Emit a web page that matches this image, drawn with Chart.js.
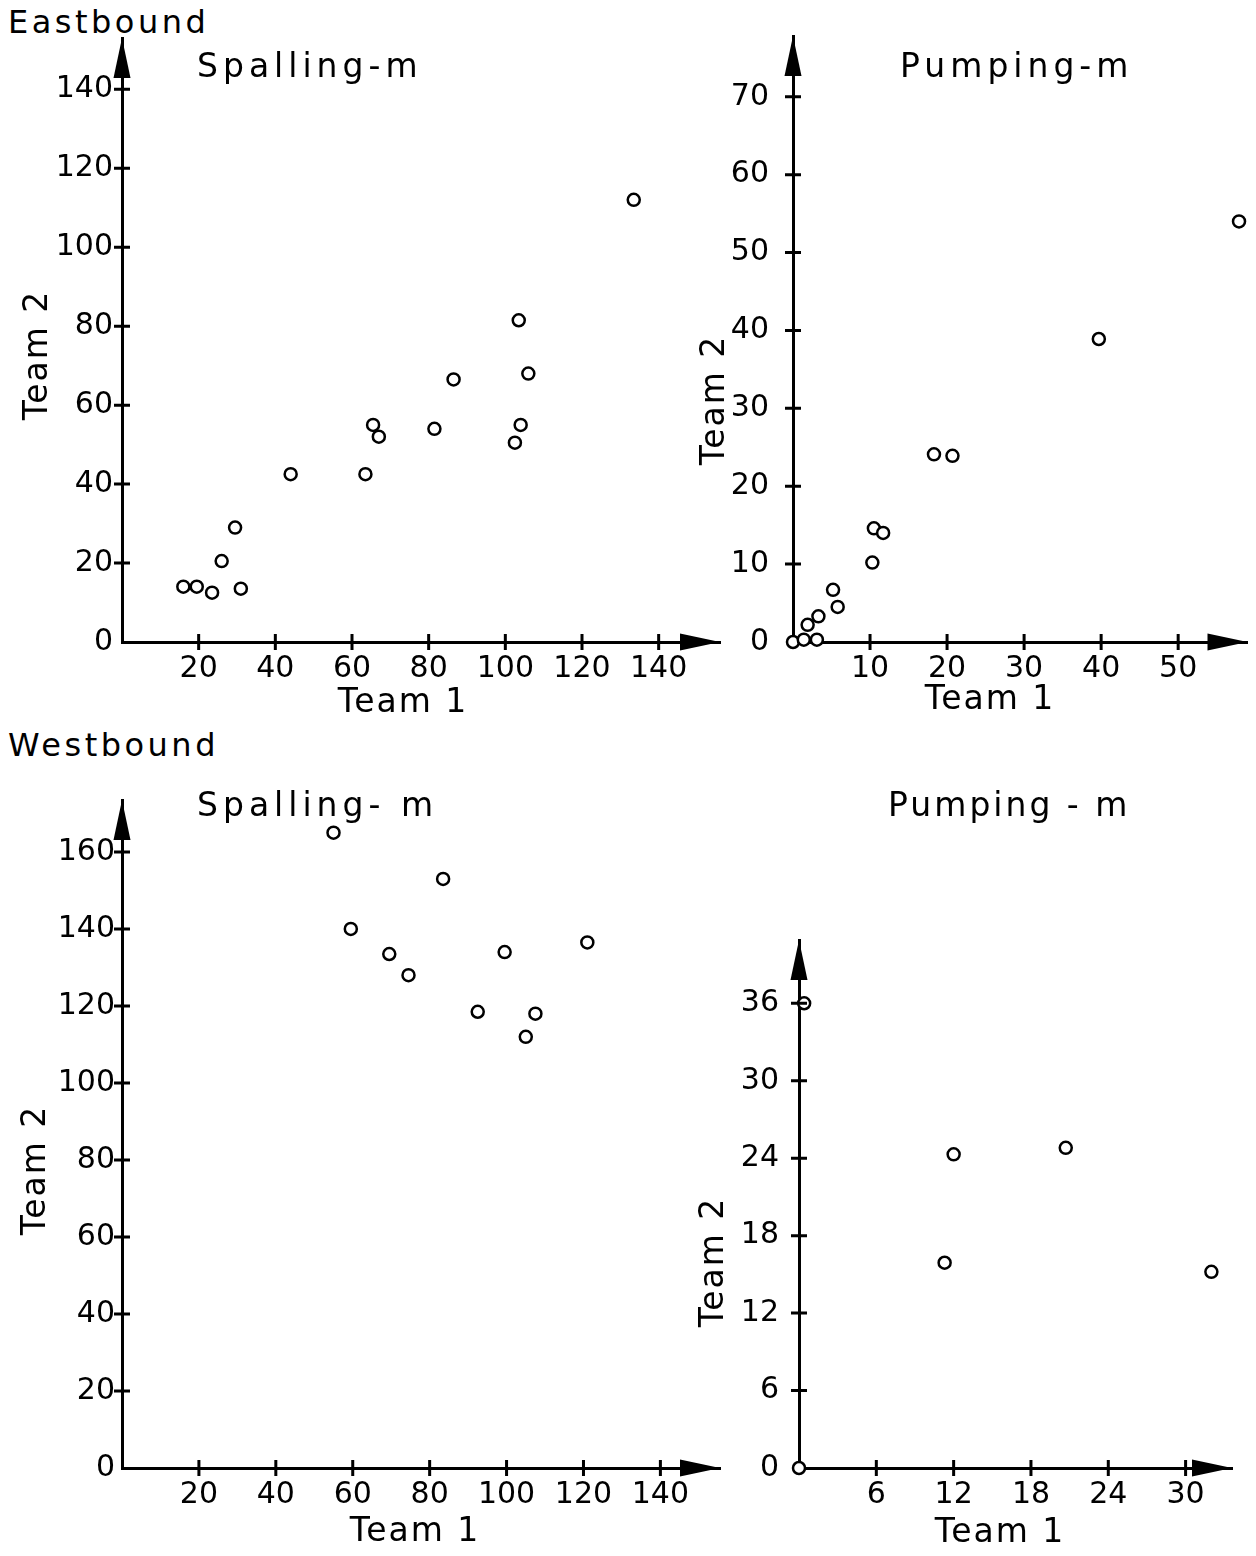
<!DOCTYPE html>
<html>
<head>
<meta charset="utf-8">
<script src="https://cdn.jsdelivr.net/npm/chart.js@4.4.1/dist/chart.umd.min.js"></script>
<style>
  body { margin: 0; background: #fff; width: 1256px; height: 1556px; position: relative; overflow: hidden; font-family: 'DejaVu Sans', sans-serif; }
  canvas { position: absolute; }
  .group { position: absolute; font-size: 32px; letter-spacing: 3.5px; color: #000; line-height: 36px; }
</style>
</head>
<body>
<div class="group" style="left:8px;top:4px">Eastbound</div>
<div class="group" style="left:8px;top:727px">Westbound</div>
<canvas id="eastSpall" width="740" height="740" style="left:0;top:0"></canvas>
<canvas id="eastPump" width="576" height="740" style="left:680px;top:0"></canvas>
<canvas id="westSpall" width="740" height="796" style="left:0;top:760px"></canvas>
<canvas id="westPump" width="576" height="796" style="left:680px;top:760px"></canvas>
<script>
'use strict';

// Eastbound, spalling (m)
let eastSpallTeam1 = [16, 19.5, 23.5, 26, 29.5, 31, 44, 63.5, 65.5, 67, 81.5, 86.5, 102.5, 104, 103.5, 106, 133.5];
let eastSpallTeam2 = [14, 14, 12.5, 20.5, 29, 13.5, 42.5, 42.5, 55, 52, 54, 66.5, 50.5, 55, 81.5, 68, 112];
let eastSpallXTicks = [20, 40, 60, 80, 100, 120, 140];
let eastSpallYTicks = [0, 20, 40, 60, 80, 100, 120, 140];

// Eastbound, pumping (m)
let eastPumpTeam1 = [0, 1.4, 3.1, 1.9, 3.3, 5.2, 5.8, 10.3, 10.5, 11.7, 18.3, 20.7, 39.7, 57.9];
let eastPumpTeam2 = [0, 0.3, 0.3, 2.2, 3.3, 6.7, 4.5, 10.2, 14.6, 14, 24.1, 23.9, 38.9, 54];
let eastPumpXTicks = [10, 20, 30, 40, 50];
let eastPumpYTicks = [0, 10, 20, 30, 40, 50, 60, 70];

// Westbound, spalling (m)
let westSpallTeam1 = [55, 83.5, 59.5, 69.5, 74.5, 99.5, 121, 92.5, 107.5, 105];
let westSpallTeam2 = [165, 153, 140, 133.5, 128, 134, 136.5, 118.5, 118, 112];
let westSpallXTicks = [20, 40, 60, 80, 100, 120, 140];
let westSpallYTicks = [0, 20, 40, 60, 80, 100, 120, 140, 160];

// Westbound, pumping (m)
let westPumpTeam1 = [0, 0.4, 12, 20.7, 11.3, 32];
let westPumpTeam2 = [0, 36, 24.3, 24.8, 15.9, 15.2];
let westPumpXTicks = [6, 12, 18, 24, 30];
let westPumpYTicks = [0, 6, 12, 18, 24, 30, 36];

Chart.defaults.font.family = "'DejaVu Sans', sans-serif";
Chart.defaults.font.size = 30;
Chart.defaults.color = '#000';

function drawText(ctx, t, rotate) {
  ctx.save();
  ctx.translate(t.x, t.y);
  if (rotate) ctx.rotate(-Math.PI / 2);
  ctx.font = (t.size || 33) + "px 'DejaVu Sans'";
  ctx.letterSpacing = (t.spacing || 2) + 'px';
  ctx.textAlign = t.align || 'center';
  ctx.textBaseline = 'middle';
  ctx.fillStyle = '#000';
  ctx.fillText(t.text, 0, 0);
  ctx.restore();
}

// ticks crossing the axes, arrow heads, titles
const axisDecor = {
  id: 'axisDecor',
  afterDraw(chart, args, opts) {
    const ctx = chart.ctx;
    const a = chart.chartArea;
    const x = chart.scales.x;
    const y = chart.scales.y;
    ctx.save();
    ctx.strokeStyle = '#000';
    ctx.fillStyle = '#000';
    ctx.lineWidth = 3;
    ctx.beginPath();
    x.ticks.forEach(t => {
      if (t.value === x.min) return;
      let px = x.getPixelForValue(t.value);
      ctx.moveTo(px, a.bottom - 8);
      ctx.lineTo(px, a.bottom + 8);
    });
    y.ticks.forEach(t => {
      if (t.value === y.min) return;
      let py = y.getPixelForValue(t.value);
      ctx.moveTo(a.left - 8, py);
      ctx.lineTo(a.left + 8, py);
    });
    ctx.stroke();

    ctx.beginPath();
    ctx.moveTo(a.left, a.top);
    ctx.lineTo(a.left - 8.5, a.top + 40);
    ctx.lineTo(a.left + 8.5, a.top + 40);
    ctx.closePath();
    ctx.fill();
    ctx.beginPath();
    ctx.moveTo(a.right, a.bottom);
    ctx.lineTo(a.right - 40, a.bottom - 8.5);
    ctx.lineTo(a.right - 40, a.bottom + 8.5);
    ctx.closePath();
    ctx.fill();
    ctx.restore();

    drawText(ctx, opts.title, false);
    drawText(ctx, opts.xTitle, false);
    drawText(ctx, opts.yTitle, true);
  }
};

function makeChart(id, xs, ys, xTicks, yTicks, xMax, yMax, box, deco) {
  let points = xs.map((v, i) => ({x: v, y: ys[i]}));
  return new Chart(document.getElementById(id), {
    type: 'scatter',
    data: {
      datasets: [{
        data: points,
        pointStyle: 'circle',
        pointRadius: 6,
        pointBorderWidth: 2.5,
        pointBackgroundColor: '#fff',
        pointBorderColor: '#000',
        clip: false
      }]
    },
    options: {
      responsive: false,
      animation: false,
      layout: {padding: {top: box.top, right: box.right, left: 0, bottom: 0}},
      plugins: {
        legend: {display: false},
        tooltip: {enabled: false},
        axisDecor: deco
      },
      scales: {
        x: {
          type: 'linear',
          min: 0,
          max: xMax,
          grid: {display: false, drawTicks: false},
          border: {display: true, color: '#000', width: 3},
          ticks: {padding: 9, maxRotation: 0, autoSkip: false},
          afterBuildTicks: s => { s.ticks = xTicks.map(v => ({value: v})); },
          afterFit: s => { s.height = box.xh; s.paddingLeft = 0; s.paddingRight = 0; }
        },
        y: {
          type: 'linear',
          min: 0,
          max: yMax,
          grid: {display: false, drawTicks: false},
          border: {display: true, color: '#000', width: 3},
          ticks: {padding: box.yPad, autoSkip: false},
          afterBuildTicks: s => { s.ticks = yTicks.map(v => ({value: v})); },
          afterFit: s => { s.width = box.yw; s.paddingTop = 0; s.paddingBottom = 0; }
        }
      }
    },
    plugins: [axisDecor]
  });
}

makeChart('eastSpall', eastSpallTeam1, eastSpallTeam2, eastSpallXTicks, eastSpallYTicks, 156, 153,
  {top: 38, right: 20, xh: 98, yw: 122, yPad: 9},
  {title: {text: 'Spalling-m', x: 197, y: 68, align: 'left', size: 33, spacing: 5},
   xTitle: {text: 'Team 1', x: 403, y: 703},
   yTitle: {text: 'Team 2', x: 38, y: 355}});

makeChart('eastPump', eastPumpTeam1, eastPumpTeam2, eastPumpXTicks, eastPumpYTicks, 59, 77.8,
  {top: 36, right: 4, xh: 98, yw: 113, yPad: 24},
  {title: {text: 'Pumping-m', x: 220, y: 68, align: 'left', size: 33, spacing: 5},
   xTitle: {text: 'Team 1', x: 310, y: 700},
   yTitle: {text: 'Team 2', x: 35, y: 400}});

makeChart('westSpall', westSpallTeam1, westSpallTeam2, westSpallXTicks, westSpallYTicks, 155.5, 173.5,
  {top: 40, right: 20, xh: 88, yw: 122, yPad: 7},
  {title: {text: 'Spalling- m', x: 197, y: 47, align: 'left', size: 33, spacing: 5},
   xTitle: {text: 'Team 1', x: 415, y: 772},
   yTitle: {text: 'Team 2', x: 36, y: 410}});

makeChart('westPump', westPumpTeam1, westPumpTeam2, westPumpXTicks, westPumpYTicks, 33.6, 40.9,
  {top: 180, right: 24, xh: 88, yw: 119, yPad: 20},
  {title: {text: 'Pumping - m', x: 208, y: 47, align: 'left', size: 33, spacing: 3},
   xTitle: {text: 'Team 1', x: 320, y: 773},
   yTitle: {text: 'Team 2', x: 34, y: 502}});
</script>
</body>
</html>
